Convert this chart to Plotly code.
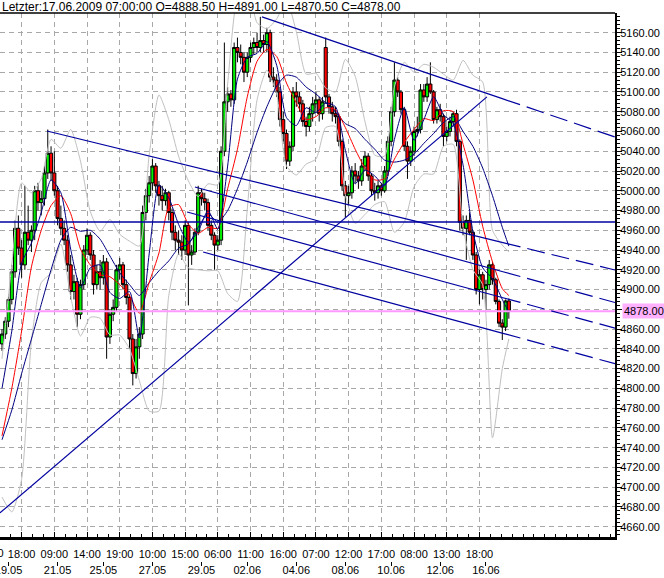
import plotly.graph_objects as go

# ---------------- data ----------------
bar_open = [4845,4855,4868,4890,4918,4962,4942,4925,4958,4950,
            4960,5000,4988,4992,5018,5038,5018,5000,4972,4962,
            4950,4925,4898,4908,4875,4905,4940,4955,4935,4905,
            4918,4912,4928,4852,4875,4882,4920,4925,4905,4892,
            4850,4815,4842,4855,4978,4995,5008,5025,5005,4995,
            4990,4998,4978,4958,4950,4948,4940,4965,4935,4938,
            4958,4998,4992,4988,4965,4955,4945,4950,5040,5090,
            5098,5092,5145,5140,5135,5120,5135,5145,5150,5145,
            5152,5148,5160,5115,5112,5100,5072,5058,5030,5045,
            5100,5095,5088,5070,5065,5078,5088,5092,5078,5145,
            5095,5085,5078,5075,5050,5005,4995,4998,5020,5015,
            5010,5025,5035,5015,5000,4998,5005,5000,5020,5050,
            5080,5112,5100,5082,5045,5030,5040,5060,5062,5102,
            5095,5108,5100,5072,5082,5075,5055,5060,5070,5078,
            5050,4968,4962,4970,4958,4935,4900,4915,4900,4905,
            4925,4910,4888,4866,4862,4888.5]
bar_high = [4860,4872,4895,4925,4970,4975,4950,5005,4985,4965,
            5005,5008,5000,5025,5062,5045,5040,5005,4985,4970,
            4955,4935,4915,4912,4910,4945,4962,4958,4940,4925,
            4930,4935,4932,4880,4890,4925,4932,4928,4910,4895,
            4855,4850,4862,4985,5002,5015,5032,5028,5010,5005,
            5002,5000,4982,4965,4960,4955,4970,4968,4945,4962,
            5005,5002,4998,4992,4970,4958,4955,5045,5150,5105,
            5102,5150,5155,5148,5140,5140,5150,5155,5160,5176,
            5158,5165,5163,5125,5118,5105,5080,5062,5050,5105,
            5110,5100,5092,5075,5085,5095,5100,5095,5095,5155,
            5098,5090,5085,5078,5052,5010,5005,5025,5028,5020,
            5032,5040,5038,5018,5008,5010,5008,5025,5055,5085,
            5130,5115,5102,5085,5050,5045,5065,5075,5108,5108,
            5115,5130,5102,5085,5088,5078,5065,5075,5080,5082,
            5052,4975,4975,4978,4960,4938,4920,4918,4910,4930,
            4928,4912,4890,4870,4890,4891]
bar_low = [4838,4850,4862,4885,4912,4935,4912,4920,4945,4938,
           4950,4980,4975,4985,5012,5010,4995,4965,4955,4945,
           4918,4890,4890,4862,4870,4900,4935,4930,4895,4900,
           4900,4905,4830,4845,4868,4878,4910,4900,4885,4840,
           4803,4810,4830,4850,4970,4988,5000,4998,4985,4980,
           4985,4970,4950,4940,4935,4930,4935,4884,4925,4935,
           4955,4985,4980,4960,4950,4920,4940,4945,5035,5080,
           5085,5088,5130,5128,5110,5115,5130,5138,5140,5140,
           5140,5140,5110,5105,5095,5065,5050,5022,5025,5040,
           5085,5080,5065,5055,5060,5070,5080,5070,5072,5088,
           5078,5070,5068,5045,5000,4973,4985,4992,5008,5002,
           5005,5020,5010,4995,4990,4992,4995,4998,5015,5045,
           5075,5095,5078,5040,5012,5025,5035,5055,5058,5090,
           5090,5098,5068,5068,5070,5045,5050,5055,5065,5045,
           4960,4955,4930,4955,4930,4895,4885,4890,4880,4900,
           4905,4885,4862,4849,4858,4870.5]
bar_close = [4855,4868,4890,4918,4962,4942,4925,4958,4950,4960,
             5000,4988,4992,5018,5038,5018,5000,4972,4962,4950,
             4925,4898,4908,4875,4905,4940,4955,4935,4905,4918,
             4912,4928,4852,4875,4882,4920,4925,4905,4892,4850,
             4815,4842,4855,4978,4995,5008,5025,5005,4995,4990,
             4998,4978,4958,4950,4948,4940,4965,4935,4938,4958,
             4998,4992,4988,4965,4955,4945,4950,5040,5090,5098,
             5092,5145,5140,5135,5120,5135,5145,5150,5145,5152,
             5148,5160,5115,5112,5100,5072,5058,5030,5045,5100,
             5095,5088,5070,5065,5078,5088,5092,5078,5090,5095,
             5085,5078,5075,5050,5005,4995,4998,5020,5015,5010,
             5025,5035,5015,5000,4998,5005,5000,5020,5050,5080,
             5112,5100,5082,5045,5030,5040,5060,5062,5102,5095,
             5108,5100,5072,5082,5075,5055,5060,5070,5078,5050,
             4968,4962,4970,4958,4935,4900,4915,4900,4905,4925,
             4910,4888,4866,4862,4888.5,4878]

ma_bars = [0,3,6,9,12,15,18,21,24,27,30,33,36,39,42,45,48,51,54,57,60,63,66,
           69,72,75,78,81,84,87,90,93,96,99,102,105,108,111,114,117,120,123,
           126,129,132,135,138,141,144,147,150,153,155]
ma_fast = [4800,4858,4927,4947,4978,5011,4998,4941,4902,4922,4925,4897,4891,
           4898,4851,4936,5006,4993,4966,4948,4959,4980,4961,5025,5113,5135,
           5139,5151,5127,5074,5066,5084,5079,5089,5085,5041,5007,5021,5015,
           5005,5052,5084,5051,5072,5095,5077,5068,5026,4959,4922,4911,4890,4877]
ma_red = [4752,4800,4858,4923,4960,4985,4995,4977,4941,4925,4915,4913,4905,
          4894,4876,4907,4937,4983,4986,4966,4957,4963,4962,5002,5042,5095,
          5131,5143,5136,5109,5089,5072,5075,5084,5082,5064,5042,5023,5011,
          5012,5032,5049,5062,5073,5071,5081,5080,5047,5011,4964,4928,4901,4894]
ma_slow = [4748,4778,4815,4850,4885,4920,4950,4963,4959,4960,4951,4934,4917,
           4905,4894,4907,4919,4929,4942,4946,4963,4977,4968,4980,5002,5029,
           5059,5085,5106,5117,5115,5105,5098,5089,5080,5068,5063,5052,5042,
           5031,5029,5031,5037,5048,5058,5069,5075,5060,5045,5023,4995,4963,4944]
band_upper = [4830,4925,5008,4998,5012,5052,5043,5062,5030,4979,4959,4971,4956,
              4949,4944,5036,5097,5072,5035,5010,4994,5007,5006,5108,5196,5209,
              5170,5164,5174,5193,5161,5118,5119,5104,5100,5133,5116,5070,5036,
              5035,5105,5130,5120,5128,5125,5118,5112,5132,5117,5110,4960,4945,4938]
band_lower = [4690,4675,4708,4848,4907,4917,4946,4893,4853,4872,4871,4854,4854,
              4840,4808,4777,4777,4894,4936,4922,4920,4919,4919,4896,4888,4981,
              5092,5122,5098,5025,5016,5027,5032,5064,5065,4996,4967,4976,4986,
              4989,4958,4968,5004,5017,5017,5045,5047,4963,4920,4905,4750,4820,4850]

# trend lines: start bar, start price, end bar, end price (dashed after last bars)
trend_start_bar = [79.5, 13.76, 59.0, 56.6, 61.5]
trend_start_val = [5176.0, 5060.5, 5003.8, 4978.5, 4938.0]
trend_end_bar = [187.46, 187.46, 187.46, 187.46, 187.46]
trend_end_val = [5054.4, 4919.8, 4886.9, 4861.0, 4825.0]
trend_solid_until = 153.2
rising_bars = [-0.61, 148.3]
rising_vals = [4674.0, 5095.0]
horizontal_level = 4968.4

time_tick_bars = [6,16,26,36,46,56,66,76,86,96,106,116,126,136,146]
time_tick_labels = ["18:00","09:00","14:00","19:00","10:00","15:00","06:00",
                    "11:00","16:00","07:00","12:00","17:00","08:00","13:00","18:00"]
date_tick_bars = [2,17,31,46,61,75,90,105,119,134,148]
date_tick_labels = ["19.05","21.05","25.05","27.05","29.05","02.06","04.06",
                    "08.06","10.06","12.06","16.06"]
y_tick_values = list(range(4660, 5161, 20))

title_text = "Letzter:17.06.2009 07:00:00 O=4888.50 H=4891.00 L=4870.50 C=4878.00"

# ---------------- figure ----------------
bar_index = list(range(len(bar_close)))
NAVY = "#000080"
TREND = "#0000A0"
X_RANGE = [-0.61, 187.46]
Y_RANGE = [4649.6, 5179.9]

fig = go.Figure()

for vals in (band_upper, band_lower):
    fig.add_trace(go.Scatter(x=ma_bars, y=vals, mode="lines",
                             line=dict(color="#c0c0c0", width=1, shape="spline", smoothing=0.6),
                             hoverinfo="skip", showlegend=False))

fig.add_trace(go.Candlestick(
    x=bar_index, open=bar_open, high=bar_high, low=bar_low, close=bar_close,
    increasing=dict(fillcolor="#00F000", line=dict(color="black", width=1)),
    decreasing=dict(fillcolor="#FF0000", line=dict(color="black", width=1)),
    whiskerwidth=0, hoverinfo="skip", showlegend=False))

for vals, col in [(ma_slow, NAVY), (ma_red, "#FF0000"), (ma_fast, NAVY)]:
    fig.add_trace(go.Scatter(x=ma_bars, y=vals, mode="lines",
                             line=dict(color=col, width=1, shape="spline", smoothing=0.6),
                             hoverinfo="skip", showlegend=False))

fig.add_trace(go.Scatter(x=X_RANGE, y=[horizontal_level]*2, mode="lines",
                         line=dict(color=TREND, width=1.5), hoverinfo="skip", showlegend=False))
fig.add_trace(go.Scatter(x=X_RANGE, y=[bar_close[-1]]*2, mode="lines",
                         line=dict(color="#FF99FF", width=2), hoverinfo="skip", showlegend=False))

fig.add_trace(go.Scatter(x=rising_bars, y=rising_vals, mode="lines",
                         line=dict(color=TREND, width=1.2), hoverinfo="skip", showlegend=False))

for b0, v0, b1, v1 in zip(trend_start_bar, trend_start_val, trend_end_bar, trend_end_val):
    vs = v0 + (v1 - v0) * (trend_solid_until - b0) / (b1 - b0)
    fig.add_trace(go.Scatter(x=[b0, trend_solid_until], y=[v0, vs], mode="lines",
                             line=dict(color=TREND, width=1.2), hoverinfo="skip", showlegend=False))
    fig.add_trace(go.Scatter(x=[trend_solid_until, b1], y=[vs, v1], mode="lines",
                             line=dict(color=TREND, width=1.2, dash="18px,7px"),
                             hoverinfo="skip", showlegend=False))

fig.add_trace(go.Scatter(x=date_tick_bars, y=[None]*len(date_tick_bars), xaxis="x2",
                         mode="markers", hoverinfo="skip", showlegend=False))

y_tick_text = ["" if v == 4880 else f"{v:.2f}" for v in y_tick_values]

fig.update_layout(
    width=664, height=578,
    margin=dict(l=0, r=49, t=13, b=17, pad=0, autoexpand=False),
    paper_bgcolor="white", plot_bgcolor="white",
    showlegend=False,
    boxgap=0.05, boxgroupgap=0,
    font=dict(family="Arial", size=11, color="black"),
    xaxis=dict(range=X_RANGE, tickmode="array", tickvals=time_tick_bars,
               ticktext=time_tick_labels, showgrid=True, gridcolor="#a8a8a8",
               griddash="5px,4px", gridwidth=1, ticks="inside", ticklen=5,
               tickcolor="black", ticklabelstandoff=5, automargin=False,
               minor=dict(tickmode="linear", tick0=6, dtick=10/3, ticks="inside",
                          ticklen=3, tickcolor="black", showgrid=False),
               showline=True, linecolor="black", linewidth=3, zeroline=False,
               rangeslider=dict(visible=False), fixedrange=True),
    xaxis2=dict(overlaying="x", anchor="free", position=0, range=X_RANGE,
                tickmode="array", tickvals=date_tick_bars, ticktext=date_tick_labels,
                ticks="outside", ticklen=4, tickcolor="black", showgrid=False,
                showline=False, zeroline=False, side="bottom", automargin=False,
                ticklabelstandoff=-5, ticklabeloverflow="allow"),
    yaxis=dict(side="right", range=Y_RANGE, domain=[0.0438, 1], tickmode="array",
               tickvals=y_tick_values, ticktext=y_tick_text, showgrid=True,
               gridcolor="#a8a8a8", griddash="5px,4px", gridwidth=1,
               ticks="outside", ticklen=5, tickcolor="black", automargin=False,
               ticklabelstandoff=-4,
               minor=dict(tickmode="linear", tick0=4660, dtick=4, ticks="outside",
                          ticklen=3, tickcolor="black", showgrid=False),
               showline=True, linecolor="black", linewidth=2, zeroline=False,
               fixedrange=True),
    shapes=[dict(type="line", xref="paper", yref="paper", x0=0, x1=1, y0=1, y1=1,
                 line=dict(color="black", width=1.5))],
    annotations=[
        dict(text=title_text, xref="paper", yref="paper", x=0, y=1, xanchor="left",
             yanchor="bottom", showarrow=False, font=dict(size=12, color="black"),
             yshift=-3),
        dict(text=f"{bar_close[-1]:.2f}", xref="paper", yref="y", x=1, y=bar_close[-1],
             xanchor="left", yanchor="middle", xshift=7, showarrow=False,
             bgcolor="#FFB0FF", font=dict(size=11, color="black")),
        dict(text="13:00", xref="paper", yref="paper", x=0, y=0.0155, xanchor="right",
             yanchor="middle", xshift=6, showarrow=False, font=dict(size=11, color="black")),
    ],
)

fig.write_html("out.html", config={"displayModeBar": False},
               post_script="document.body.style.margin='0';document.body.style.overflow='hidden';")
